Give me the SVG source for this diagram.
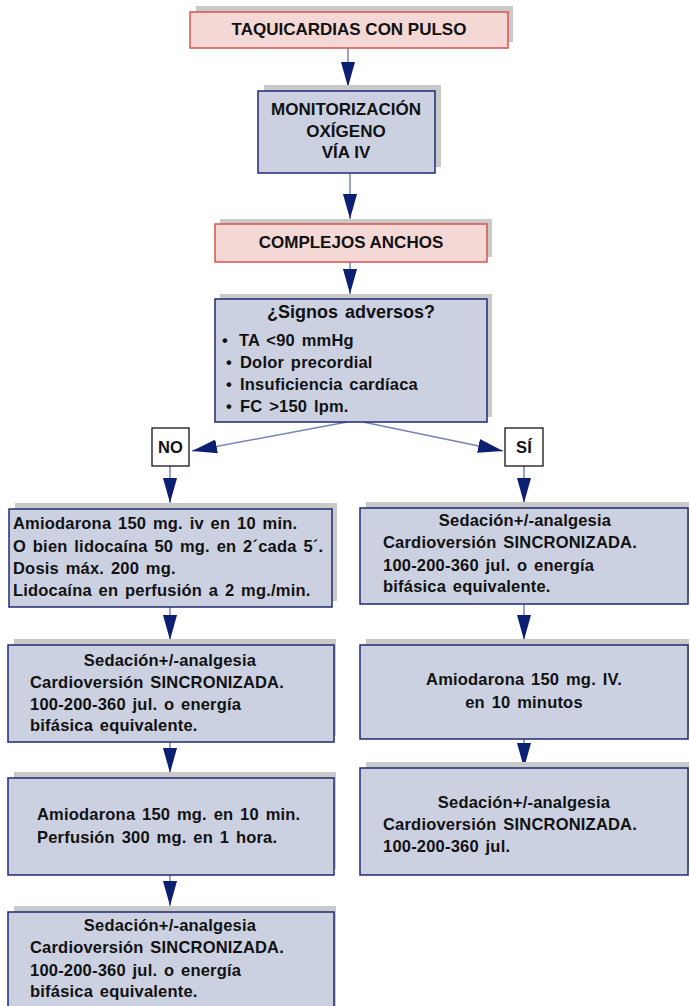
<svg xmlns="http://www.w3.org/2000/svg" width="690" height="1006" viewBox="0 0 690 1006">
<defs>
<marker id="ah" viewBox="0 0 25 14" refX="25" refY="7" markerWidth="25" markerHeight="14" markerUnits="userSpaceOnUse" orient="auto">
<path d="M0,0 L25,7 L0,14 z" fill="#0c1f72"/>
</marker>
<style>
.sh{fill:#c9c9c9}
.red{fill:#f4d8d6;stroke:#d9534f;stroke-width:1.5}
.blue{fill:#ccd1e1;stroke:#1f2a70;stroke-width:1.5}
.wb{fill:#ffffff;stroke:#000;stroke-width:1.2}
text{font-family:"Liberation Sans",Arial,sans-serif;font-weight:bold;font-size:16.5px;fill:#111;word-spacing:2px;letter-spacing:0.2px}
.c{text-anchor:middle}
.t{font-size:17px;word-spacing:0;letter-spacing:0}
.con{stroke:#7784b6;stroke-width:1.5;fill:none;marker-end:url(#ah)}
</style>
</defs>

<g id="connectors">
<line class="con" x1="348" y1="48" x2="348" y2="87"/>
<line class="con" x1="350" y1="173" x2="350" y2="219"/>
<line class="con" x1="350" y1="262" x2="350" y2="294"/>
<line class="con" x1="347" y1="422" x2="192" y2="451"/>
<line class="con" x1="363" y1="422" x2="503" y2="451"/>
<line class="con" x1="170" y1="466" x2="170" y2="503"/>
<line class="con" x1="524" y1="466" x2="524" y2="503"/>
<line class="con" x1="170" y1="607" x2="170" y2="640"/>
<line class="con" x1="524" y1="604" x2="524" y2="640"/>
<line class="con" x1="170" y1="742" x2="170" y2="773"/>
<line class="con" x1="524" y1="739" x2="524" y2="768"/>
<line class="con" x1="170" y1="875" x2="170" y2="906"/>
</g>

<g id="n-taquicardias">
<rect class="sh" x="196" y="6" width="317" height="36"/>
<rect class="red" x="190" y="12" width="318" height="36"/>
<text class="c t" x="349" y="35">TAQUICARDIAS CON PULSO</text>
</g>

<g id="n-monitorizacion">
<rect class="sh" x="264" y="85" width="177" height="82"/>
<rect class="blue" x="258" y="91" width="177" height="82"/>
<text class="c t" x="346" y="115">MONITORIZACIÓN</text>
<text class="c t" x="346" y="137">OXÍGENO</text>
<text class="c t" x="346" y="158">VÍA IV</text>
</g>

<g id="n-complejos">
<rect class="sh" x="220" y="219" width="272" height="38"/>
<rect class="red" x="215" y="224" width="272" height="38"/>
<text class="c t" x="351" y="248">COMPLEJOS ANCHOS</text>
</g>

<g id="n-signos">
<rect class="sh" x="220" y="294" width="272" height="123"/>
<rect class="blue" x="215" y="299" width="272" height="123"/>
<text class="c" x="351" y="318" style="font-size:18px;letter-spacing:0">¿Signos adversos?</text>
<text x="222" y="346">•</text><text x="239" y="346">TA &lt;90 mmHg</text>
<text x="226" y="368">•</text><text x="240" y="368">Dolor precordial</text>
<text x="226" y="390">•</text><text x="240" y="390">Insuficiencia cardíaca</text>
<text x="226" y="412">•</text><text x="240" y="412">FC &gt;150 lpm.</text>
</g>

<g id="n-no">
<rect class="wb" x="152" y="428" width="37" height="38"/>
<text class="c" x="170.5" y="453">NO</text>
</g>

<g id="n-si">
<rect class="wb" x="505" y="428" width="38" height="38"/>
<text class="c" x="524" y="453">SÍ</text>
</g>

<g id="n-left1">
<rect class="sh" x="15" y="503" width="322" height="98"/>
<rect class="blue" x="9" y="509" width="323" height="98"/>
<text x="13" y="529">Amiodarona 150 mg. iv en 10 min.</text>
<text x="13" y="552">O bien lidocaína 50 mg. en 2´cada 5´.</text>
<text x="13" y="574">Dosis máx. 200 mg.</text>
<text x="13" y="596">Lidocaína en perfusión a 2 mg./min.</text>
</g>

<g id="n-right1">
<rect class="sh" x="366" y="502" width="323" height="96"/>
<rect class="blue" x="360" y="508" width="328" height="96"/>
<text class="c" x="525" y="526">Sedación+/-analgesia</text>
<text x="383" y="548">Cardioversión SINCRONIZADA.</text>
<text x="383" y="571">100-200-360 jul. o energía</text>
<text x="383" y="592">bifásica equivalente.</text>
</g>

<g id="n-left2">
<rect class="sh" x="14" y="639" width="322" height="97"/>
<rect class="blue" x="8" y="645" width="326" height="97"/>
<text class="c" x="170" y="666">Sedación+/-analgesia</text>
<text x="30" y="688">Cardioversión SINCRONIZADA.</text>
<text x="30" y="710">100-200-360 jul. o energía</text>
<text x="30" y="731">bifásica equivalente.</text>
</g>

<g id="n-right2">
<rect class="sh" x="366" y="639" width="323" height="94"/>
<rect class="blue" x="360" y="645" width="328" height="94"/>
<text class="c" x="524" y="685">Amiodarona 150 mg. IV.</text>
<text class="c" x="524" y="708">en 10 minutos</text>
</g>

<g id="n-left3">
<rect class="sh" x="14" y="772" width="322" height="97"/>
<rect class="blue" x="8" y="778" width="326" height="97"/>
<text x="37" y="820">Amiodarona 150 mg. en 10 min.</text>
<text x="37" y="843">Perfusión 300 mg. en 1 hora.</text>
</g>

<g id="n-right3">
<rect class="sh" x="366" y="762" width="323" height="107"/>
<rect class="blue" x="360" y="768" width="328" height="107"/>
<text class="c" x="524" y="808">Sedación+/-analgesia</text>
<text x="383" y="830">Cardioversión SINCRONIZADA.</text>
<text x="383" y="852">100-200-360 jul.</text>
</g>

<g id="n-left4">
<rect class="sh" x="14" y="906" width="322" height="110"/>
<rect class="blue" x="8" y="912" width="326" height="110"/>
<text class="c" x="170" y="931">Sedación+/-analgesia</text>
<text x="30" y="953">Cardioversión SINCRONIZADA.</text>
<text x="30" y="976">100-200-360 jul. o energía</text>
<text x="30" y="997">bifásica equivalente.</text>
</g>
</svg>
